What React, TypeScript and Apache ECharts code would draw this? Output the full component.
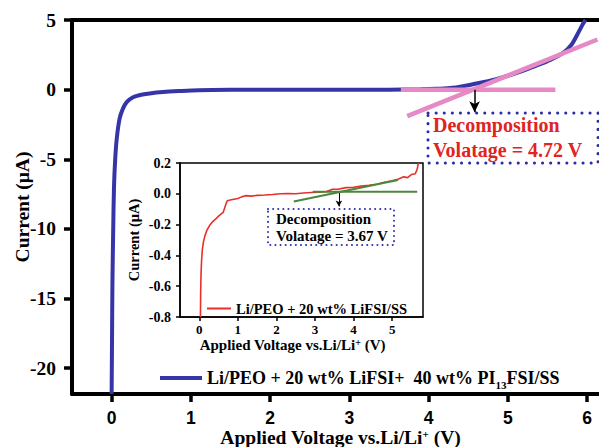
import React, { useEffect, useRef } from "react";
import * as echarts from "echarts";

// ---------- data ----------
const mainTicksX = [0, 1, 2, 3, 4, 5, 6];
const mainTicksY = [-20, -15, -10, -5, 0, 5];
const insetTicksX = [0, 1, 2, 3, 4, 5];

const mainSeriesName = "Li/PEO + 20 wt% LiFSI+  40 wt% PI13FSI/SS";
const insetSeriesName = "Li/PEO + 20 wt% LiFSI/SS";

const blueCurve = [
  [0.0, -21.85], [0.005, -18], [0.01, -14], [0.02, -10], [0.03, -7], [0.045, -5],
  [0.065, -3.5], [0.1, -2.1], [0.14, -1.4], [0.19, -0.9], [0.27, -0.55], [0.36, -0.38],
  [0.48, -0.27], [0.65, -0.17], [0.86, -0.1], [1.1, -0.04], [1.5, -0.01], [2.0, 0],
  [2.5, 0], [3.0, 0], [3.5, 0], [3.9, 0.02], [4.1, 0.06], [4.3, 0.13], [4.57, 0.4],
  [4.8, 0.68], [5.0, 1.0], [5.15, 1.28], [5.3, 1.6], [5.5, 2.05], [5.7, 2.65],
  [5.8, 3.2], [5.88, 4.0], [5.95, 4.75], [5.98, 5.0],
];

const pinkBaseline = [[3.65, 0], [5.6, 0]];
const pinkTangent = [[3.73, -1.9], [6.13, 3.6]];
const mainArrow = [[4.58, 0], [4.58, -1.62]];

const redCurve = [
  [0.03, -0.8], [0.035, -0.65], [0.045, -0.52], [0.06, -0.43], [0.08, -0.36], [0.11, -0.31],
  [0.15, -0.27], [0.2, -0.235], [0.27, -0.205], [0.35, -0.18], [0.42, -0.165], [0.5, -0.145],
  [0.57, -0.13], [0.62, -0.12], [0.66, -0.09], [0.7, -0.06], [0.73, -0.045], [0.8, -0.04],
  [0.9, -0.035], [1.0, -0.03], [1.1, -0.02], [1.2, -0.012], [1.35, -0.015], [1.5, -0.01],
  [1.7, -0.008], [1.9, -0.005], [2.1, 0.0], [2.3, 0.002], [2.5, 0.0], [2.7, 0.005],
  [2.9, 0.008], [3.1, 0.01], [3.3, 0.015], [3.45, 0.03], [3.6, 0.03], [3.8, 0.04],
  [4.0, 0.042], [4.2, 0.05], [4.4, 0.055], [4.6, 0.062], [4.8, 0.075], [5.0, 0.085],
  [5.15, 0.095], [5.3, 0.11], [5.4, 0.105], [5.5, 0.125], [5.6, 0.13], [5.65, 0.16], [5.68, 0.2],
];

const greenBaseline = [[2.94, 0.013], [5.65, 0.013]];
const greenTangent = [[2.45, -0.05], [5.15, 0.09]];
const insetArrow = [[3.62, 0.013], [3.62, -0.082]];

const mainNote = ["Decomposition", "Volatage = 4.72 V"];
const insetNote = ["Decomposition", "Volatage = 3.67 V"];

// ---------- styles ----------
const SERIF = "Liberation Serif";
const SANS = "Liberation Sans";
const BLUE = "#3535a8";
const PINK = "#e68ac6";
const RED = "#e8302a";
const GREEN = "#4e853c";

export default function App() {
  const ref = useRef<HTMLDivElement>(null);

  useEffect(() => {
    if (!ref.current) return;
    const chart = echarts.init(ref.current, undefined, { renderer: "svg" });

    const option: any = {
      animation: false,
      backgroundColor: "#fff",
      grid: [
        { left: 72, top: 20, right: 0, bottom: 53, outerBoundsMode: "none", containLabel: false },
        {
          left: 180, top: 163, width: 243, height: 154, show: true,
          outerBoundsMode: "none", containLabel: false,
          backgroundColor: "#fff", borderColor: "#000", borderWidth: 1.5, z: 3,
        },
      ],
      legend: [
        {
          data: [mainSeriesName], left: 160, top: 366, padding: 0,
          icon: "rect", itemWidth: 42, itemHeight: 4, selectedMode: false,
          formatter: () => "Li/PEO + 20 wt% LiFSI+  40 wt% PI{sub|13}FSI/SS",
          textStyle: {
            fontFamily: SERIF, fontWeight: "bold", fontSize: 18, color: "#000", lineHeight: 24,
            rich: {
              sub: { fontFamily: SERIF, fontWeight: "bold", fontSize: 11, lineHeight: 11, verticalAlign: "bottom" },
            },
          },
        },
        {
          data: [insetSeriesName], left: 207, top: 301, padding: 0, z: 6,
          icon: "rect", itemWidth: 24, itemHeight: 2, selectedMode: false,
          textStyle: { fontFamily: SERIF, fontWeight: "bold", fontSize: 14.5, color: "#000" },
        },
      ],
      xAxis: [
        {
          gridIndex: 0, type: "value", min: -0.5, max: 6.15,
          axisLine: { onZero: false, lineStyle: { color: "#000", width: 4 } },
          axisTick: { customValues: mainTicksX, length: 8, lineStyle: { color: "#000", width: 3.5 } },
          axisLabel: {
            customValues: mainTicksX, margin: 15, color: "#000",
            fontFamily: SANS, fontWeight: "bold", fontSize: 17.5, lineHeight: 17,
            formatter: (v: number) => String(v),
          },
          splitLine: { show: false },
          name: "Applied Voltage vs.Li/Li{sup|+} (V)",
          nameLocation: "middle", nameGap: 34, nameMoveOverlap: false,
          nameTextStyle: {
            fontFamily: SERIF, fontWeight: "bold", fontSize: 19.5, color: "#000", lineHeight: 19,
            padding: [0, 0, 0, 10],
            rich: { sup: { fontFamily: SERIF, fontWeight: "bold", fontSize: 11, lineHeight: 11, verticalAlign: "top" } },
          },
        },
        {
          gridIndex: 1, type: "value", min: -0.5, max: 5.8,
          axisLine: { onZero: false, lineStyle: { color: "#000", width: 1.5 } },
          axisTick: { customValues: insetTicksX, length: 4, lineStyle: { color: "#000", width: 1.5 } },
          axisLabel: {
            customValues: insetTicksX, margin: 6, color: "#000",
            fontFamily: SERIF, fontWeight: "bold", fontSize: 13, lineHeight: 13,
            formatter: (v: number) => String(v),
          },
          splitLine: { show: false },
          name: "Applied Voltage vs.Li/Li{sup|+} (V)",
          nameLocation: "middle", nameGap: 20, nameMoveOverlap: false,
          nameTextStyle: {
            fontFamily: SERIF, fontWeight: "bold", fontSize: 15, color: "#000", lineHeight: 15,
            padding: [0, 18, 0, 0],
            rich: { sup: { fontFamily: SERIF, fontWeight: "bold", fontSize: 10, lineHeight: 10, verticalAlign: "top" } },
          },
          z: 5,
        },
        {
          gridIndex: 0, type: "value", min: -0.5, max: 6.15, position: "top",
          axisLine: { onZero: false, lineStyle: { color: "#000", width: 4 } },
          axisTick: { show: false }, axisLabel: { show: false }, splitLine: { show: false },
        },
      ],
      yAxis: [
        {
          gridIndex: 0, type: "value", min: -21.85, max: 5,
          axisLine: { onZero: false, lineStyle: { color: "#000", width: 4 } },
          axisTick: { customValues: mainTicksY, length: 8, lineStyle: { color: "#000", width: 3.5 } },
          axisLabel: {
            customValues: mainTicksY, margin: 16, color: "#000",
            fontFamily: SERIF, fontWeight: "bold", fontSize: 19.5,
            formatter: (v: number) => String(v),
          },
          splitLine: { show: false },
          name: "Current (μA)", nameLocation: "middle", nameGap: 40, nameMoveOverlap: false,
          nameTextStyle: { fontFamily: SERIF, fontWeight: "bold", fontSize: 19.5, color: "#000" },
        },
        {
          gridIndex: 1, type: "value", min: -0.8, max: 0.2, interval: 0.2,
          axisLine: { onZero: false, lineStyle: { color: "#000", width: 1.5 } },
          axisTick: { length: 4, lineStyle: { color: "#000", width: 1.5 } },
          axisLabel: {
            margin: 9, color: "#000", fontFamily: SERIF, fontWeight: "bold", fontSize: 14,
            formatter: (v: number) => v.toFixed(1),
          },
          splitLine: { show: false },
          name: "Current (μA)", nameLocation: "middle", nameGap: 39, nameMoveOverlap: false,
          nameTextStyle: { fontFamily: SERIF, fontWeight: "bold", fontSize: 14.5, color: "#000" },
          z: 5,
        },
      ],
      series: [
        {
          name: mainSeriesName, type: "line", xAxisIndex: 0, yAxisIndex: 0,
          data: blueCurve, showSymbol: false, symbol: "none", smooth: 0.3,
          lineStyle: { color: BLUE, width: 4 }, itemStyle: { color: BLUE }, z: 2,
        },
        {
          name: "pinkBase", type: "line", xAxisIndex: 0, yAxisIndex: 0,
          data: pinkBaseline, symbol: "none", lineStyle: { color: PINK, width: 4.5 }, z: 3,
        },
        {
          name: "pinkTan", type: "line", xAxisIndex: 0, yAxisIndex: 0,
          data: pinkTangent, symbol: "none", lineStyle: { color: PINK, width: 4.5 }, z: 3,
          markLine: {
            silent: true, symbol: ["none", "arrow"], symbolSize: [8, 11],
            lineStyle: { color: "#000", width: 1.5, type: "solid" },
            label: { show: false },
            data: [[{ coord: mainArrow[0] }, { coord: mainArrow[1] }]],
          },
        },
        {
          name: insetSeriesName, type: "line", xAxisIndex: 1, yAxisIndex: 1,
          data: redCurve, symbol: "none", lineStyle: { color: RED, width: 1.6 },
          itemStyle: { color: RED }, z: 6,
        },
        {
          name: "greenBase", type: "line", xAxisIndex: 1, yAxisIndex: 1,
          data: greenBaseline, symbol: "none", lineStyle: { color: GREEN, width: 2 }, z: 6,
        },
        {
          name: "greenTan", type: "line", xAxisIndex: 1, yAxisIndex: 1,
          data: greenTangent, symbol: "none", lineStyle: { color: GREEN, width: 2 }, z: 6,
          markLine: {
            silent: true, symbol: ["none", "arrow"], symbolSize: [5, 6],
            lineStyle: { color: "#000", width: 1, type: "solid" },
            label: { show: false },
            data: [[{ coord: insetArrow[0] }, { coord: insetArrow[1] }]],
          },
        },
      ],
      graphic: [
        {
          type: "rect", shape: { x: 428, y: 113, width: 170, height: 50 }, z: 10,
          style: { fill: "none", stroke: "#2b2ba6", lineWidth: 3, lineDash: [0.1, 8], lineCap: "round" },
        },
        {
          type: "text", x: 433, y: 125, z: 10,
          style: { text: mainNote[0], fill: "#e0241f", font: `bold 20px "${SERIF}"`, verticalAlign: "middle" },
        },
        {
          type: "text", x: 433, y: 150, z: 10,
          style: { text: mainNote[1], fill: "#e0241f", font: `bold 20px "${SERIF}"`, verticalAlign: "middle" },
        },
        {
          type: "rect", shape: { x: 268, y: 209, width: 126, height: 36 }, z: 10,
          style: { fill: "none", stroke: "#3434b0", lineWidth: 2, lineDash: [0.1, 5], lineCap: "round" },
        },
        {
          type: "text", x: 276, y: 219, z: 10,
          style: { text: insetNote[0], fill: "#000", font: `bold 15px "${SERIF}"`, verticalAlign: "middle" },
        },
        {
          type: "text", x: 276, y: 236, z: 10,
          style: { text: insetNote[1], fill: "#000", font: `bold 15px "${SERIF}"`, verticalAlign: "middle" },
        },
      ],
    };

    chart.setOption(option);
    return () => chart.dispose();
  }, []);

  return (
    <div
      ref={ref}
      style={{ position: "absolute", left: 0, top: 0, width: 599, height: 447 }}
    />
  );
}
